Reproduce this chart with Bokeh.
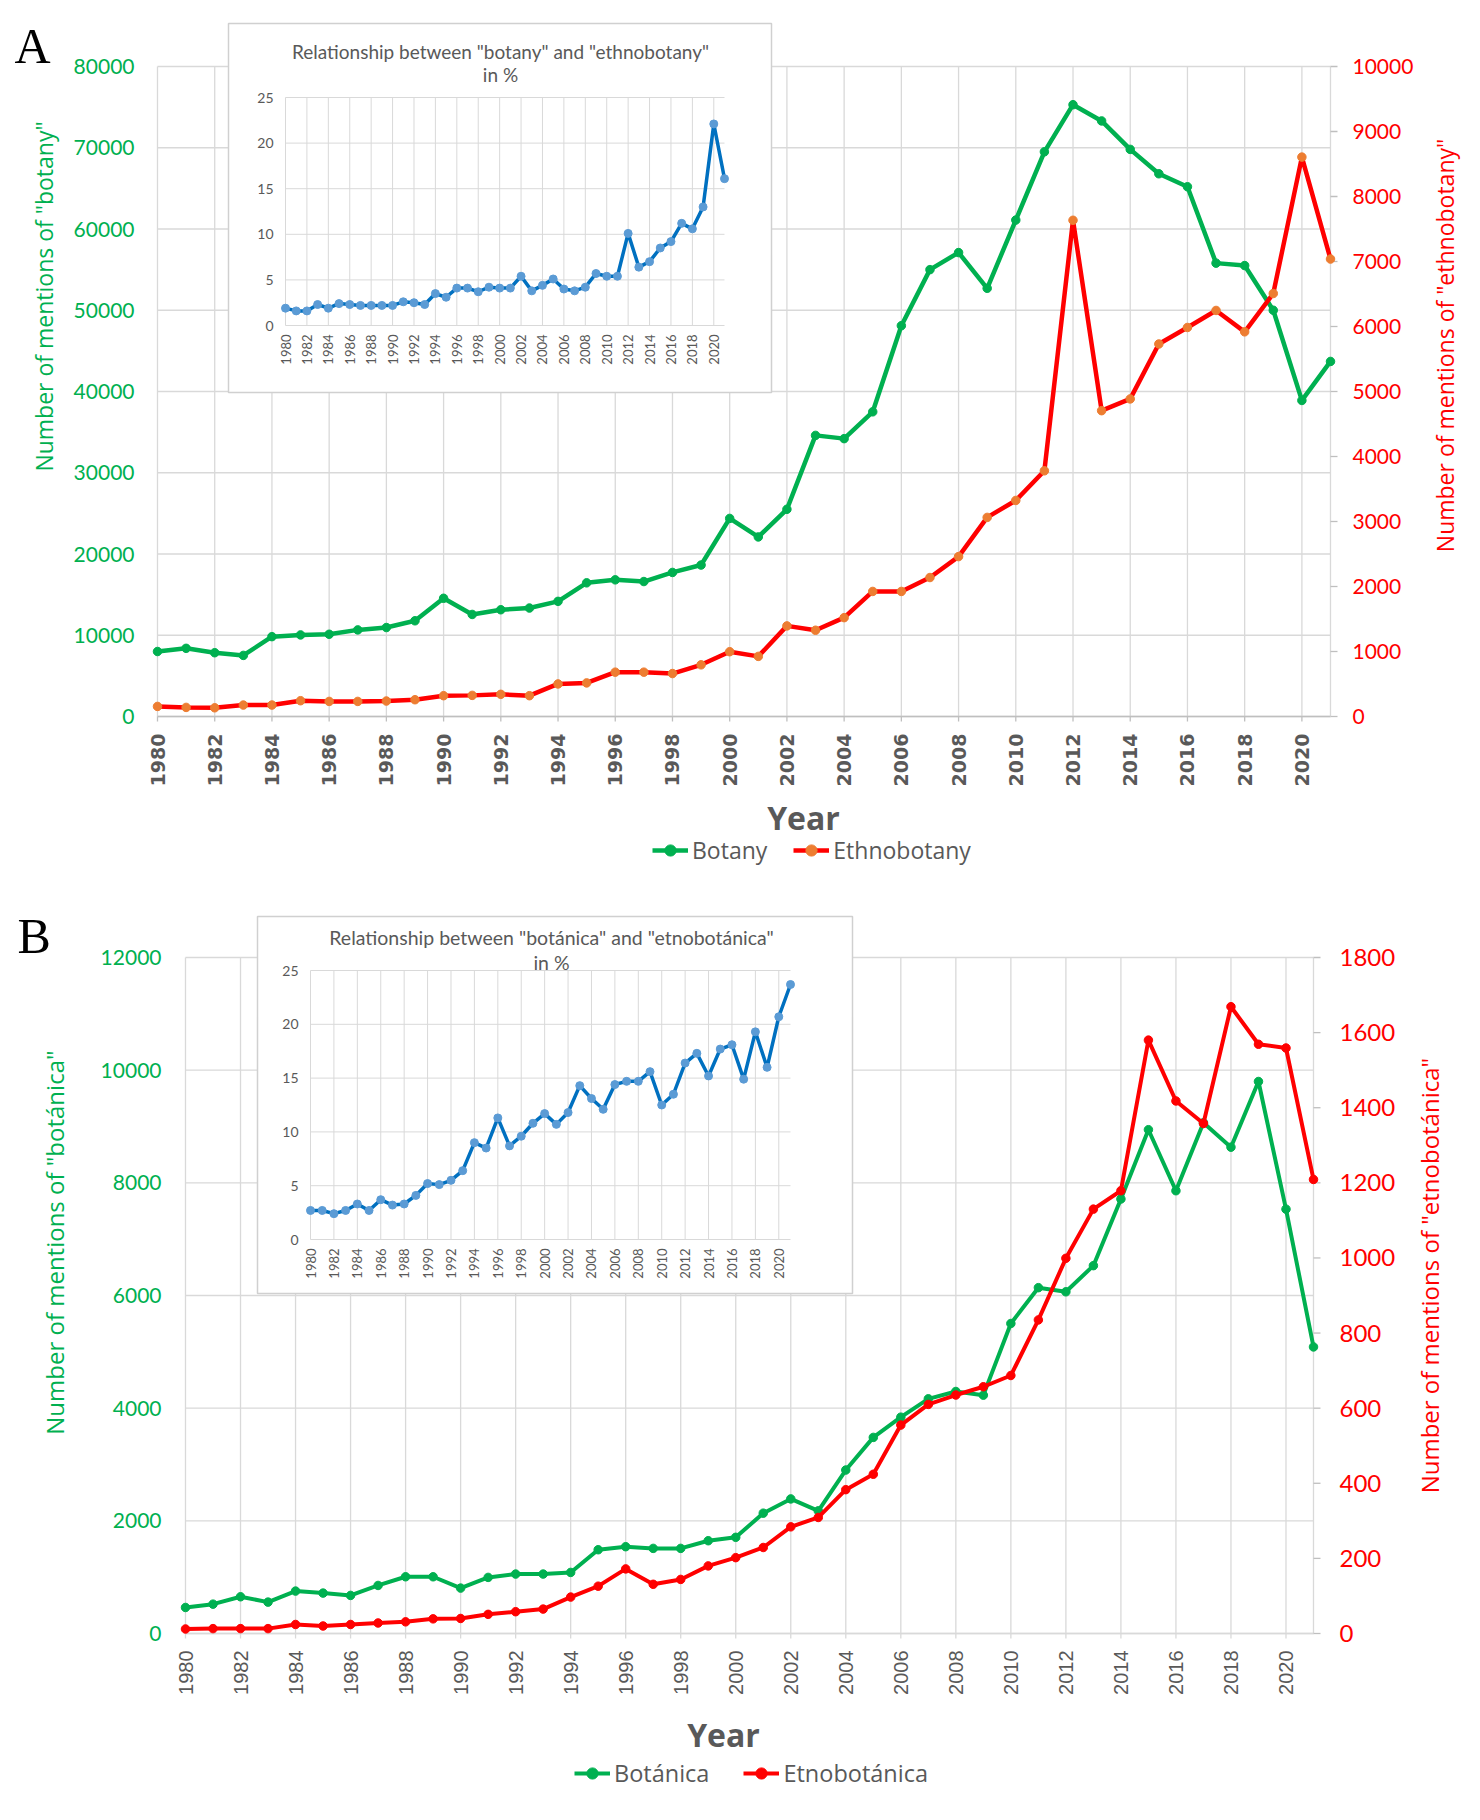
import math
from bokeh.plotting import figure
from bokeh.models import Range1d, Legend, LegendItem, Label
from bokeh.layouts import column
from bokeh.core.properties import value
from bokeh.embed import file_html
from bokeh.resources import INLINE

# ---------------- data ----------------
years = list(range(1980, 2022))
tick_years = list(range(1980, 2021, 2))
tick_year_labels = [str(y) for y in tick_years]

botany = [8000, 8390, 7850, 7520, 9830, 10040, 10120, 10660, 10950, 11780,
          14550, 12560, 13140, 13350, 14170, 16450, 16820, 16610, 17730, 18640,
          24380, 22100, 25500, 34600, 34200, 37500, 48100, 55000, 57100, 52700,
          61100, 69500, 75300, 73300, 69800, 66800, 65200, 55800, 55500, 50000,
          38900, 43700]
ethnobotany = [155, 140, 134, 176, 176, 243, 232, 232, 238, 258,
               320, 325, 341, 320, 501, 517, 682, 682, 661, 795,
               997, 925, 1394, 1327, 1521, 1924, 1924, 2138, 2460, 3063,
               3324, 3780, 7634, 4705, 4886, 5731, 5985, 6247, 5918, 6508,
               8606, 7038]
ratio_a = [1.9, 1.6, 1.6, 2.3, 1.9, 2.4, 2.3, 2.2, 2.2, 2.2,
           2.2, 2.6, 2.5, 2.3, 3.5, 3.1, 4.1, 4.1, 3.7, 4.2,
           4.1, 4.1, 5.4, 3.8, 4.4, 5.1, 4.0, 3.8, 4.2, 5.7,
           5.4, 5.4, 10.1, 6.4, 7.0, 8.5, 9.2, 11.2, 10.6, 13.0,
           22.1, 16.1]

botanica = [462, 521, 652, 557, 753, 717, 676, 853, 1007, 1007,
            806, 996, 1055, 1055, 1084, 1487, 1541, 1511, 1511, 1647,
            1707, 2136, 2389, 2177, 2902, 3481, 3840, 4166, 4296, 4231,
            5503, 6139, 6066, 6530, 7713, 8943, 7860, 9066, 8633, 9799,
            7533, 5087]
etnobotanica = [12, 13, 13, 13, 24, 20, 24, 28, 31, 39,
                40, 51, 58, 65, 97, 126, 172, 131, 144, 180,
                202, 229, 284, 309, 383, 424, 555, 610, 635, 657,
                687, 835, 999, 1130, 1179, 1580, 1418, 1358, 1669, 1569,
                1559, 1209]
ratio_b = [2.7, 2.7, 2.4, 2.7, 3.3, 2.7, 3.7, 3.2, 3.3, 4.1,
           5.2, 5.1, 5.5, 6.4, 9.0, 8.5, 11.3, 8.7, 9.6, 10.8,
           11.7, 10.7, 11.8, 14.3, 13.1, 12.1, 14.4, 14.7, 14.7, 15.6,
           12.5, 13.5, 16.4, 17.3, 15.2, 17.7, 18.1, 14.9, 19.3, 16.0,
           20.7, 23.7]

left_ticks_a = list(range(0, 80001, 10000))
right_ticks_a = list(range(0, 10001, 1000))
left_ticks_b = list(range(0, 12001, 2000))
right_ticks_b = list(range(0, 1801, 200))
inset_ticks = [0, 5, 10, 15, 20, 25]

GREEN = "#00B050"
RED = "#FF0000"
ORANGE = "#ED7D31"
GRAY = "#595959"
GRID = "#D9D9D9"
BLUE_LINE = "#0070C0"
BLUE_PT = "#5B9BD5"

PAGE_L, PAGE_R = 0, 1472
PAGE_W = PAGE_R - PAGE_L


def lin_range(v0, p0, v1, p1, c0, c1):
    """Range whose values v0/v1 fall on page pixels p0/p1, canvas spanning c0..c1."""
    k = (v1 - v0) / (p1 - p0)
    return Range1d(v0 + (c0 - p0) * k, v0 + (c1 - p0) * k)


def make_chart(c):
    fl, ft, fr, fb = c["frame"]
    top = c["top"]
    bottom = top + c["height"]
    ymax = c["left_ticks"][-1]
    rmax = c["right_ticks"][-1]
    y0i, y1i = inset_ticks[0], inset_ticks[-1]

    # default ranges are page pixels (y grows downward)
    p = figure(frame_width=PAGE_W, frame_height=c["height"],
               x_range=Range1d(PAGE_L, PAGE_R), y_range=Range1d(bottom, top),
               x_axis_type=None, y_axis_type=None,
               output_backend="svg", toolbar_location=None, min_border=0)
    p.title.visible = False
    p.outline_line_color = None
    p.background_fill_color = "white"
    p.border_fill_color = "white"

    ipl, ipt, ipr, ipb = c["inset_plot"]
    p.extra_x_ranges = {
        "mx": lin_range(years[0], fl, years[-1], fr, PAGE_L, PAGE_R),
        "ix": lin_range(years[0], ipl, years[-1], ipr, PAGE_L, PAGE_R),
    }
    p.extra_y_ranges = {
        "ml": lin_range(0, fb, ymax, ft, bottom, top),
        "mr": lin_range(0, fb, rmax, ft, bottom, top),
        "iy": lin_range(y0i, ipb, y1i, ipt, bottom, top),
    }

    n = len(tick_years)
    k = len(c["left_ticks"])
    r = len(c["right_ticks"])
    m = len(inset_ticks)

    # ---- main grid ----
    p.segment(x0=[years[0]] * k, x1=[years[-1]] * k, y0=c["left_ticks"], y1=c["left_ticks"],
              x_range_name="mx", y_range_name="ml", line_color=GRID, line_width=1.3)
    p.segment(x0=tick_years, x1=tick_years, y0=[0] * n, y1=[ymax] * n,
              x_range_name="mx", y_range_name="ml", line_color=GRID, line_width=1.3)
    # bottom axis line and ticks
    p.segment(x0=[years[0]], x1=[years[-1]], y0=[0], y1=[0],
              x_range_name="mx", y_range_name="ml", line_color=c["xaxis_color"], line_width=1.6)
    p.segment(x0=tick_years, x1=tick_years, y0=[fb] * n, y1=[fb + 5] * n,
              x_range_name="mx", line_color=c["xaxis_color"], line_width=1.3)
    # right axis line and ticks
    p.segment(x0=[years[-1]], x1=[years[-1]], y0=[0], y1=[rmax],
              x_range_name="mx", y_range_name="mr", line_color=GRID, line_width=1.3)
    p.segment(x0=[fr] * r, x1=[fr + 7] * r, y0=c["right_ticks"], y1=c["right_ticks"],
              y_range_name="mr", line_color="#BFBFBF", line_width=1.3)

    # ---- tick labels ----
    p.text(x=[fl - c["lstandoff"]] * k, y=c["left_ticks"], text=[str(t) for t in c["left_ticks"]],
           y_range_name="ml", text_align="right", text_baseline="middle",
           text_font=value("Lato"), text_font_size=c["lsize"], text_color=GREEN)
    p.text(x=[fr + c["rstandoff"]] * r, y=c["right_ticks"], text=[str(t) for t in c["right_ticks"]],
           y_range_name="mr", text_align="left", text_baseline="middle",
           text_font=value("Lato"), text_font_size=c["rsize"], text_color=RED)
    p.text(x=tick_years, y=[fb + c["xstandoff"]] * n, text=tick_year_labels,
           x_range_name="mx", angle=math.pi / 2, text_align="right", text_baseline="middle",
           text_font=value(c["xfont"]), text_font_size=c["xsize"],
           text_font_style=c["xstyle"], text_color=GRAY)

    # ---- inset ----
    bl, bt, br, bb = c["inset_box"]
    p.quad(left=[bl], right=[br], top=[bt], bottom=[bb],
           fill_color="white", line_color="#D0D0D0", line_width=1.5)
    p.segment(x0=tick_years, y0=[y0i] * n, x1=tick_years, y1=[y1i] * n,
              x_range_name="ix", y_range_name="iy", line_color=GRID, line_width=1)
    p.segment(x0=[years[0]] * m, y0=inset_ticks, x1=[years[-1]] * m, y1=inset_ticks,
              x_range_name="ix", y_range_name="iy", line_color=GRID, line_width=1)
    p.text(x=tick_years, y=[ipb + 9] * n, text=tick_year_labels,
           x_range_name="ix", angle=math.pi / 2, text_align="right", text_baseline="middle",
           text_font=value("Lato"), text_font_size="13px", text_color=GRAY)
    p.text(x=[ipl - 12] * m, y=inset_ticks, text=[str(t) for t in inset_ticks],
           y_range_name="iy", text_align="right", text_baseline="middle",
           text_font=value("Lato"), text_font_size="14px", text_color=GRAY)
    p.line(years, c["ratio"], x_range_name="ix", y_range_name="iy",
           line_color=BLUE_LINE, line_width=3.5)
    p.scatter(years, c["ratio"], x_range_name="ix", y_range_name="iy",
              size=8, fill_color=BLUE_PT, line_color=BLUE_PT)
    for txt, py in zip(c["inset_title"], c["inset_title_y"]):
        p.add_layout(Label(x=c["inset_title_x"], y=py, text=txt,
                           text_align="center", text_baseline="middle",
                           text_font="Lato", text_font_size=c["ititle_size"],
                           text_color=GRAY))

    # ---- main series ----
    l1 = p.line(years, c["s1"], x_range_name="mx", y_range_name="ml",
                line_color=GREEN, line_width=c["lw"])
    m1 = p.scatter(years, c["s1"], x_range_name="mx", y_range_name="ml",
                   size=c["ms"], fill_color=GREEN, line_color=GREEN)
    l2 = p.line(years, c["s2"], x_range_name="mx", y_range_name="mr",
                line_color=RED, line_width=c["lw"])
    m2 = p.scatter(years, c["s2"], x_range_name="mx", y_range_name="mr",
                   size=c["ms"], fill_color=c["m2color"], line_color=c["m2color"])

    # ---- axis titles ----
    lx, ly = c["ltitle"]
    p.add_layout(Label(x=lx, y=ly, angle=math.pi / 2, text=c["ltitle_text"],
                       text_align="center", text_baseline="middle", text_font="Open Sans",
                       text_font_size=c["title_size"], text_color=GREEN))
    rx, ry = c["rtitle"]
    p.add_layout(Label(x=rx, y=ry, angle=math.pi / 2, text=c["rtitle_text"],
                       text_align="center", text_baseline="middle", text_font="Open Sans",
                       text_font_size=c["title_size"], text_color=RED))
    yx, yy = c["year_pos"]
    p.add_layout(Label(x=yx, y=yy, text="Year", text_align="center", text_baseline="middle",
                       text_font="Open Sans", text_font_size="32px", text_font_style="bold",
                       text_color=GRAY))

    # panel letter
    lx0, lcy = c["letter_pos"]
    p.add_layout(Label(x=lx0, y=lcy, text=c["letter"], text_align="left",
                       text_baseline="middle", text_font="Liberation Serif",
                       text_font_size="50px", text_color="black"))

    # legend
    leg_h = 28
    leg = Legend(items=[LegendItem(label=c["names"][0], renderers=[l1, m1]),
                        LegendItem(label=c["names"][1], renderers=[l2, m2])],
                 orientation="horizontal",
                 location=(c["legend_x"] - PAGE_L, bottom - (c["legend_cy"] + leg_h // 2)),
                 glyph_width=36, glyph_height=leg_h, label_standoff=4,
                 spacing=c["legend_spacing"], padding=0, margin=0,
                 border_line_color=None, background_fill_alpha=0,
                 label_text_font="Open Sans", label_text_font_size=c["legend_size"],
                 label_text_color=GRAY, label_height=leg_h)
    p.add_layout(leg)
    return p


cfg_a = dict(
    top=0, height=888, frame=(157, 66, 1330, 716),
    left_ticks=left_ticks_a, right_ticks=right_ticks_a,
    xfont="DejaVu Sans", xsize="19px", xstyle="bold", xstandoff=17, xaxis_color="#BFBFBF",
    lsize="21px", lstandoff=23, rsize="21px", rstandoff=22,
    inset_plot=(285, 97, 724, 325), inset_box=(228, 23, 771, 392),
    inset_title=['Relationship between "botany" and "ethnobotany"', 'in %'],
    inset_title_x=500, inset_title_y=(51, 74), ititle_size="19px",
    ratio=ratio_a, s1=botany, s2=ethnobotany, m2color=ORANGE, lw=4.5, ms=8.5,
    ltitle=(43, 296), ltitle_text='Number of mentions of "botany"',
    rtitle=(1444, 345), rtitle_text='Number of mentions of "ethnobotany"',
    title_size="23px",
    letter="A", letter_pos=(14, 45),
    year_pos=(803, 817), legend_x=652, legend_cy=852, legend_spacing=26,
    legend_size="23px",
    names=("Botany", "Ethnobotany"),
)

cfg_b = dict(
    top=888, height=924, frame=(185, 957, 1313, 1633),
    left_ticks=left_ticks_b, right_ticks=right_ticks_b,
    xfont="Liberation Sans", xsize="20px", xstyle="normal", xstandoff=17, xaxis_color="#D9D9D9",
    lsize="21px", lstandoff=24, rsize="24px", rstandoff=26,
    inset_plot=(310, 970, 790, 1239), inset_box=(257, 916, 852, 1293),
    inset_title=['Relationship between "botánica" and "etnobotánica"', 'in %'],
    inset_title_x=551, inset_title_y=(937, 962), ititle_size="19.5px",
    ratio=ratio_b, s1=botanica, s2=etnobotanica, m2color=RED, lw=4, ms=8.5,
    ltitle=(54, 1239), ltitle_text='Number of mentions of  "botánica"',
    rtitle=(1429, 1272), rtitle_text='Number of mentions of  "etnobotánica"',
    title_size="24px",
    letter="B", letter_pos=(17, 935),
    year_pos=(723, 1734), legend_x=574, legend_cy=1775, legend_spacing=34,
    legend_size="23.5px",
    names=("Botánica", "Etnobotánica"),
)

pa = make_chart(cfg_a)
pb = make_chart(cfg_b)
layout = column(pa, pb, spacing=0)

open("out.html", "w").write(file_html(layout, INLINE))
